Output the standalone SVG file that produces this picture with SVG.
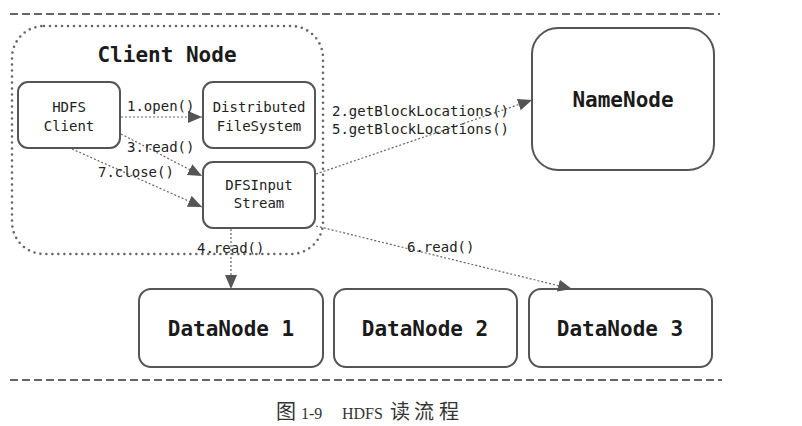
<svg xmlns="http://www.w3.org/2000/svg" width="802" height="426" viewBox="0 0 802 426">
<style>
.box{fill:#fff;stroke:#555;stroke-width:2}
.big{font-family:"DejaVu Sans Mono","Liberation Mono",monospace;font-weight:bold;font-size:21px;fill:#1a1a1a;text-anchor:middle}
.sm{font-family:"DejaVu Sans Mono","Liberation Mono",monospace;font-size:14px;fill:#222;text-anchor:middle}
.lbl{font-family:"DejaVu Sans Mono","Liberation Mono",monospace;font-size:14px;fill:#222}
.conn{fill:none;stroke:#666;stroke-width:1.2;stroke-dasharray:2 2;marker-end:url(#ah)}
.sep{stroke:#666;stroke-width:2;stroke-dasharray:8 4}
.cap{font-family:"Liberation Serif","Noto Sans CJK SC",serif;font-size:20px;fill:#333}
.capl{font-size:16px}
</style>
<defs>
<marker id="ah" markerUnits="userSpaceOnUse" markerWidth="14" markerHeight="12" refX="14" refY="6" orient="auto">
<path d="M0,0 L14,6 L0,12 z" fill="#555"/>
</marker>
</defs>
<line class="sep" x1="10" y1="14" x2="720" y2="14"/>
<line class="sep" x1="10" y1="380" x2="722" y2="380"/>
<g id="client-node">
<rect x="12" y="26" width="311" height="228" rx="32" fill="none" stroke="#666" stroke-width="2.6" stroke-linecap="round" stroke-dasharray="0 6"/>
<text class="big" x="167" y="62">Client Node</text>
</g>
<g id="hdfs-client">
<rect class="box" x="18" y="82" width="102" height="66" rx="10"/>
<text class="sm" x="69" y="112">HDFS</text>
<text class="sm" x="69" y="131">Client</text>
</g>
<g id="distributed-fs">
<rect class="box" x="203" y="82" width="112" height="66" rx="10"/>
<text class="sm" x="259" y="112">Distributed</text>
<text class="sm" x="259" y="131">FileSystem</text>
</g>
<g id="dfs-input-stream">
<rect class="box" x="203" y="162" width="112" height="66" rx="10"/>
<text class="sm" x="259" y="190">DFSInput</text>
<text class="sm" x="259" y="208">Stream</text>
</g>
<g id="namenode">
<rect class="box" x="532" y="28" width="182" height="142" rx="26"/>
<text class="big" x="623" y="107">NameNode</text>
</g>
<g id="datanode1">
<rect class="box" x="139" y="289" width="184" height="78" rx="12"/>
<text class="big" x="231" y="336">DataNode 1</text>
</g>
<g id="datanode2">
<rect class="box" x="334" y="289" width="183" height="78" rx="12"/>
<text class="big" x="425" y="336">DataNode 2</text>
</g>
<g id="datanode3">
<rect class="box" x="529" y="289" width="183" height="78" rx="12"/>
<text class="big" x="620" y="336">DataNode 3</text>
</g>
<g id="connectors">
<line class="conn" x1="121" y1="117" x2="202" y2="117"/>
<line class="conn" x1="121" y1="134" x2="202" y2="176"/>
<line class="conn" x1="72" y1="149" x2="202" y2="207"/>
<line class="conn" x1="316" y1="174" x2="532" y2="100"/>
<line class="conn" x1="231" y1="229" x2="231" y2="289"/>
<line class="conn" x1="316" y1="226" x2="572" y2="289"/>
<text class="lbl" x="127" y="111">1.open()</text>
<text class="lbl" x="127" y="152">3.read()</text>
<text class="lbl" x="98" y="177">7.close()</text>
<text class="lbl" x="332" y="116">2.getBlockLocations()</text>
<text class="lbl" x="332" y="134">5.getBlockLocations()</text>
<text class="lbl" x="197" y="253">4.read()</text>
<text class="lbl" x="407" y="252">6.read()</text>
</g>
<text class="cap" y="419"><tspan x="276">图</tspan><tspan class="capl" x="301">1-9</tspan><tspan class="capl" x="342">HDFS</tspan><tspan x="390">读</tspan><tspan x="414">流</tspan><tspan x="439">程</tspan></text>
</svg>
